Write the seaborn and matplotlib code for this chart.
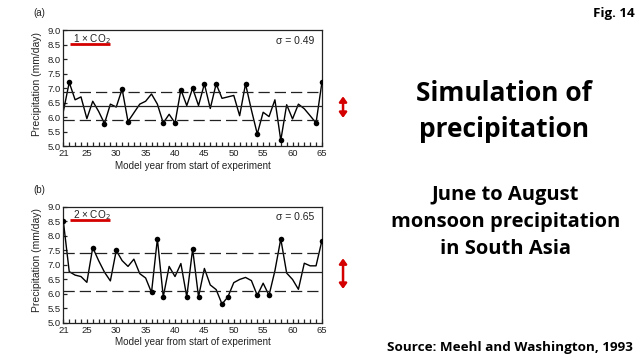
import matplotlib
matplotlib.use("Agg")
import matplotlib.pyplot as plt
import numpy as np
import pandas as pd
import seaborn as sns

years = list(range(21, 66))

precip_1x = [6.2, 7.2, 6.6, 6.7, 5.95, 6.55, 6.2, 5.78, 6.45, 6.35,
             6.97, 5.85, 6.15, 6.45, 6.55, 6.8, 6.45, 5.8, 6.1, 5.8,
             6.95, 6.4, 7.0, 6.4, 7.15, 6.3, 7.15, 6.65, 6.7, 6.75,
             6.05, 7.15, 6.25, 5.42, 6.17, 6.02, 6.6, 5.2, 6.43, 5.94,
             6.45, 6.29, 6.05, 5.8, 7.2]
dots_1x = [22, 28, 31, 32, 38, 40, 41, 43, 45, 47, 52, 54, 58, 64, 65]
mean_1x, sigma_1x = 6.38, 0.49

precip_2x = [8.5, 6.77, 6.65, 6.6, 6.4, 7.6, 7.15, 6.75, 6.45, 7.5,
             7.15, 6.95, 7.2, 6.7, 6.55, 6.05, 7.9, 5.9, 6.95, 6.6,
             7.05, 5.9, 7.55, 5.9, 6.88, 6.31, 6.15, 5.65, 5.9, 6.39,
             6.5, 6.57, 6.46, 5.95, 6.37, 5.95, 6.8, 7.9, 6.72, 6.5,
             6.16, 7.06, 6.97, 6.97, 7.84]
dots_2x = [21, 26, 30, 36, 37, 38, 42, 43, 44, 48, 49, 54, 56, 58, 65]
mean_2x, sigma_2x = 6.76, 0.65

panels = [
    ("(a)", "1 × CO$_2$", precip_1x, dots_1x, mean_1x, sigma_1x),
    ("(b)", "2 × CO$_2$", precip_2x, dots_2x, mean_2x, sigma_2x),
]

sns.set_theme(style="ticks")
plt.rcParams["font.family"] = ["Liberation Sans", "DejaVu Sans"]

fig = plt.figure(figsize=(6.4, 3.6), dpi=100)
fig.patch.set_facecolor("white")

ax_boxes = [[0.099, 0.594, 0.404, 0.322], [0.099, 0.103, 0.404, 0.322]]
red = "#d40000"
ink = "#222222"
slide_font = ["Open Sans", "DejaVu Sans"]

for box, (tag, co2, vals, dots, mean, sigma) in zip(ax_boxes, panels):
    ax = fig.add_axes(box)
    df = pd.DataFrame({"year": years, "precip": vals})
    hi = df[df["year"].isin(dots)]
    sns.lineplot(data=df, x="year", y="precip", ax=ax, color="black", lw=1.0)
    sns.scatterplot(data=hi, x="year", y="precip", ax=ax, color="black", s=16,
                    edgecolor="black", linewidth=0, zorder=3)
    ax.axhline(mean, color=ink, lw=0.9)
    for lvl in (mean + sigma, mean - sigma):
        ax.axhline(lvl, color=ink, lw=0.9, dashes=(9, 4))
    ax.set_xlim(21, 65)
    ax.set_ylim(5.0, 9.0)
    ax.set_xticks([21, 25, 30, 35, 40, 45, 50, 55, 60, 65])
    ax.set_xticks(years, minor=True)
    ax.set_yticks(np.arange(5.0, 9.01, 0.5))
    ax.set_yticklabels([f"{v:.1f}" for v in np.arange(5.0, 9.01, 0.5)])
    ax.tick_params(axis="both", which="major", direction="in", length=3,
                   width=0.9, labelsize=6.8, pad=2, colors=ink)
    ax.tick_params(axis="x", which="minor", direction="in", length=3, width=0.9)
    for sp in ax.spines.values():
        sp.set_visible(True)
        sp.set_linewidth(0.9)
        sp.set_color(ink)
    ax.set_xlabel("Model year from start of experiment", fontsize=7.1,
                  labelpad=2, color=ink)
    ax.set_ylabel("Precipitation (mm/day)", fontsize=7.5, color=ink)
    ax.yaxis.set_label_coords(-0.083, 0.54)
    ax.text(0.037, 0.90, co2, transform=ax.transAxes, fontsize=7.2,
            va="baseline", ha="left", color=ink)
    ax.plot([0.027, 0.179], [0.884, 0.884], transform=ax.transAxes,
            color=red, lw=2.0, solid_capstyle="butt", clip_on=False)
    ax.text(0.97, 0.885, f"σ = {sigma:.2f}", transform=ax.transAxes,
            fontsize=7.5, va="baseline", ha="right", color=ink)
    fig.text(box[0] - 0.038, box[1] + box[3] + 0.048, tag, fontsize=7,
             ha="center", va="center", color=ink)

# right-hand slide text
fig.text(0.992, 0.962, "Fig. 14", family=slide_font, color="black",
         fontweight="bold", fontsize=9.6, ha="right", va="center")
fig.text(0.787, 0.69, "Simulation of\nprecipitation", family=slide_font,
         color="black", fontweight="bold", fontsize=19, ha="center",
         va="center", linespacing=1.4)
fig.text(0.79, 0.383, "June to August\nmonsoon precipitation\nin South Asia",
         family=slide_font, color="black", fontweight="bold", fontsize=14.5,
         ha="center", va="center", linespacing=1.45)
fig.text(0.989, 0.035, "Source: Meehl and Washington, 1993",
         family=slide_font, color="black", fontweight="bold", fontsize=9.7,
         ha="right", va="center")

# red double arrows next to panels
for y0, y1 in ((0.74, 0.665), (0.29, 0.19)):
    fig.add_artist(matplotlib.patches.FancyArrowPatch(
        (0.536, y0), (0.536, y1), transform=fig.transFigure,
        arrowstyle="<|-|>,head_length=3,head_width=2.2", color=red, lw=1.8))

fig.savefig("out.png", dpi=100)
